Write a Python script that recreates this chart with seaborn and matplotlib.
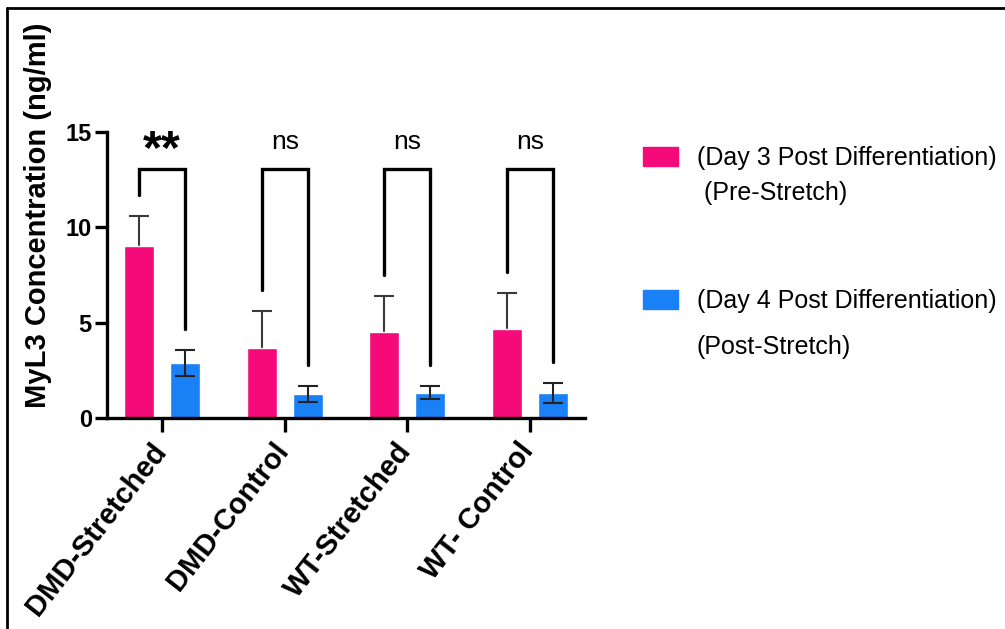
import matplotlib
matplotlib.use("Agg")
import matplotlib.pyplot as plt
import matplotlib.transforms as mtransforms
from matplotlib.lines import Line2D
import numpy as np
import pandas as pd
import seaborn as sns

# --- data -------------------------------------------------------------
groups = ["DMD-Stretched", "DMD-Control", "WT-Stretched", "WT- Control"]
conditions = ["(Day 3 Post Differentiation)", "(Day 4 Post Differentiation)"]
subtitles = [" (Pre-Stretch)", "(Post-Stretch)"]
pre_mean = [9.0, 3.67, 4.5, 4.67]
pre_sem = [1.6, 1.95, 1.9, 1.88]
post_mean = [2.88, 1.26, 1.32, 1.31]
post_sem = [0.7, 0.4, 0.35, 0.52]
significance = ["**", "ns", "ns", "ns"]
yticks = [0, 5, 10, 15]

colors = ["#F50A7A", "#1A80F5"]

df = pd.DataFrame({
    "group": groups * 2,
    "condition": [conditions[0]] * 4 + [conditions[1]] * 4,
    "value": pre_mean + post_mean,
})

sns.set_theme(style="white")
plt.rcParams["font.family"] = ["Liberation Sans", "DejaVu Sans"]
plt.rcParams.update({"text.color": "black", "axes.labelcolor": "black",
                     "xtick.color": "black", "ytick.color": "black"})

fig = plt.figure(figsize=(10.05, 6.29), dpi=100)
ax = fig.add_axes([0.1065, 0.3355, 0.4756, 0.5002])

sns.barplot(data=df, x="group", y="value", hue="condition", order=groups,
            hue_order=conditions, palette=colors, width=0.75, gap=0.35,
            saturation=1, errorbar=None, ax=ax)

centers = []
for cont in ax.containers:
    xs = np.array([b.get_x() + b.get_width() / 2 for b in cont.patches])
    centers.append(xs)
    for b in cont.patches:
        b.set_zorder(2)
means = [np.array(pre_mean), np.array(post_mean)]
sems = [np.array(pre_sem), np.array(post_sem)]

# SEM error bars; the first series sits behind its bars so only the upper arm shows
ax.errorbar(centers[0], means[0], yerr=sems[0], fmt="none",
            ecolor="#3a3a3a", elinewidth=1.5, capsize=7, capthick=1.5, zorder=1)
ax.errorbar(centers[1], means[1], yerr=sems[1], fmt="none",
            ecolor="#222222", elinewidth=1.5, capsize=7, capthick=1.5, zorder=3)

# comparison brackets with significance marks
bracket_top = 13.05
leg_gap = 1.1
for i in range(4):
    x0, x1 = centers[0][i], centers[1][i]
    y0 = means[0][i] + sems[0][i] + leg_gap
    y1 = means[1][i] + sems[1][i] + leg_gap
    ax.plot([x0, x0, x1, x1], [y0, bracket_top, bracket_top, y1],
            color="black", lw=2.4, solid_joinstyle="miter", clip_on=False)
    xm = (x0 + x1) / 2
    if significance[i] == "**":
        ax.text(xm, 14.0, significance[i], ha="center", va="center",
                fontsize=35, fontweight="bold", color="black")
    else:
        ax.text(xm, 14.45, significance[i], ha="center", va="center",
                fontsize=19, color="black")

# axes styling
ax.set_xlim(-0.45, 3.45)
ax.set_ylim(0, 16.5)
ax.set_yticks(yticks)
ax.spines["left"].set_bounds(0, 15)
for side in ("top", "right"):
    ax.spines[side].set_visible(False)
for side in ("left", "bottom"):
    ax.spines[side].set_linewidth(2.4)
    ax.spines[side].set_color("black")
ax.tick_params(axis="y", direction="out", length=9, width=2.4, pad=2,
               labelsize=17, left=True)
ax.tick_params(axis="x", direction="out", length=10, width=2.4, pad=4,
               labelsize=21, bottom=True)
for t in ax.get_yticklabels():
    t.set_fontweight("bold")
ax.set_xticks(range(4))
ax.set_xticklabels(groups, rotation=52, ha="right", va="top",
                   rotation_mode="anchor", fontweight="bold")
shift = mtransforms.ScaledTranslation(-9 / 72, 0, fig.dpi_scale_trans)
for t in ax.get_xticklabels():
    t.set_transform(t.get_transform() + shift)
ax.set_xlabel("")
ax.set_ylabel("MyL3 Concentration (ng/ml)", fontsize=21, fontweight="bold")
ax.yaxis.set_label_coords(-0.115, 0.645)
ax.grid(False)

# legend
handles = [plt.Rectangle((0, 0), 1, 1, color=c) for c in colors]
leg = ax.legend(handles, conditions, loc="upper left", frameon=False,
                bbox_to_anchor=(643 / 1005, 1 - 146 / 629),
                bbox_transform=fig.transFigure, fontsize=18,
                handlelength=1.4, handleheight=0.8, handletextpad=0.75,
                labelspacing=4.75, borderaxespad=0, borderpad=0)
for txt, sub, dy in zip(leg.get_texts(), subtitles, [35, 46]):
    ax.annotate(sub, xy=(0, 0.5), xycoords=txt, xytext=(0, -dy),
                textcoords="offset pixels", ha="left", va="center",
                fontsize=18, color="black", annotation_clip=False, zorder=10)

# page border (top and left edges)
fig.add_artist(Line2D([7 / 1005, 1], [1 - 8 / 629, 1 - 8 / 629],
                      transform=fig.transFigure, color="black", lw=2))
fig.add_artist(Line2D([7 / 1005, 7 / 1005], [0, 1 - 8 / 629],
                      transform=fig.transFigure, color="black", lw=2))

fig.savefig("out.png", dpi=100)
